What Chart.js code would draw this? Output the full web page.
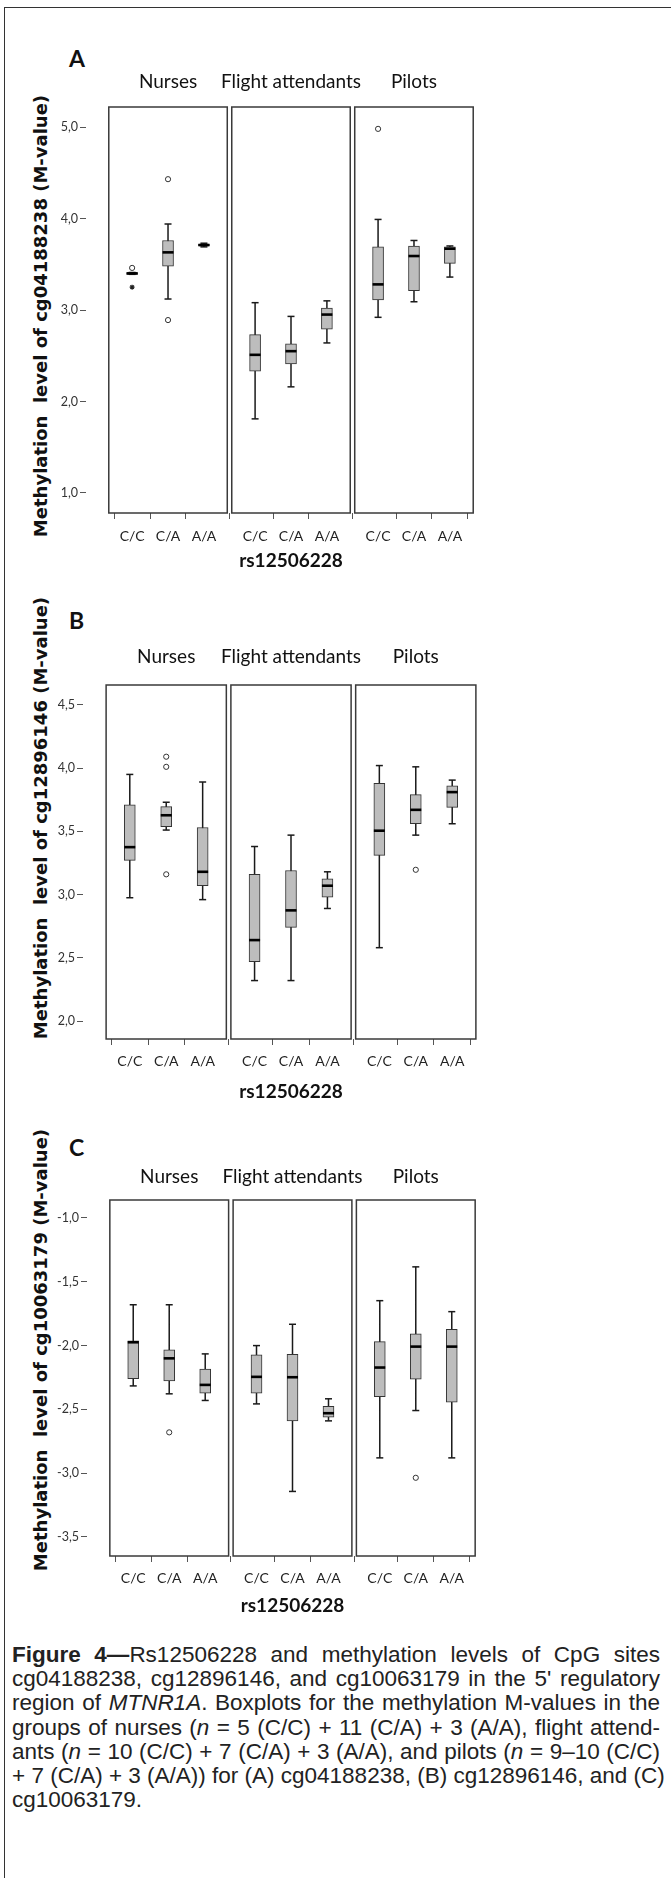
<!DOCTYPE html>
<html>
<head>
<meta charset="utf-8">
<script src="https://cdn.jsdelivr.net/npm/chart.js"></script>
<style>
    body { margin: 0; background: #fff; width: 671px; height: 1878px; position: relative; overflow: hidden; }
    .row { position: absolute; left: 0; width: 671px; }
    .letter { position: absolute; font: bold 23px Lato, sans-serif; color: #111; line-height: 23px; }
    .ytitle { position: absolute; width: 600px; text-align: center; font: bold 18px "DejaVu Sans", sans-serif; color: #111;
              white-space: pre; line-height: 22px; transform: rotate(-90deg); }
    #border { position: absolute; left: 4px; top: 7px; width: 700px; height: 1900px; border-left: 1.5px solid #333; border-top: 1.5px solid #333; }
    #caption { position: absolute; left: 12px; top: 1643px; width: 648px; color: #222;
               font-family: "Liberation Sans", Arial, sans-serif; font-size: 22.5px; line-height: 24.2px; }
    #caption div { text-align: justify; text-align-last: justify; white-space: nowrap; }
    #caption div.last { text-align-last: left; }
</style>
</head>
<body>
<div id="border"></div>

<div class="letter" style="left:69px; top:47px">A</div>
<div class="letter" style="left:69px; top:609px">B</div>
<div class="letter" style="left:69px; top:1136px">C</div>

<div class="ytitle" style="left:-259px; top:305px">Methylation  level of cg04188238 (M-value)</div>
<div class="ytitle" style="left:-259px; top:807px">Methylation  level of cg12896146 (M-value)</div>
<div class="ytitle" style="left:-259px; top:1339px">Methylation  level of cg10063179 (M-value)</div>

<div class="row" style="top:0px; height:590px"><canvas id="chartA"></canvas></div>
<div class="row" style="top:590px; height:530px"><canvas id="chartB"></canvas></div>
<div class="row" style="top:1120px; height:510px"><canvas id="chartC"></canvas></div>

<div id="caption">
    <div><b>Figure 4—</b>Rs12506228 and methylation levels of CpG sites</div>
    <div>cg04188238, cg12896146, and cg10063179 in the 5' regulatory</div>
    <div>region of <i>MTNR1A</i>. Boxplots for the methylation M-values in the</div>
    <div>groups of nurses (<i>n</i> = 5 (C/C) + 11 (C/A) + 3 (A/A), flight attend-</div>
    <div>ants (<i>n</i> = 10 (C/C) + 7 (C/A) + 3 (A/A), and pilots (<i>n</i> = 9–10 (C/C)</div>
    <div>+ 7 (C/A) + 3 (A/A)) for (A) cg04188238, (B) cg12896146, and (C)</div>
    <div class="last">cg10063179.</div>
</div>

<script>
    // groups and genotypes, boxes are listed group by group
    const groups = ['Nurses', 'Flight attendants', 'Pilots'];
    const genotypes = ['C/C', 'C/A', 'A/A'];

    // A: cg04188238
    const ticksA = [1, 2, 3, 4, 5];
    const minA = [3.39, 3.12, 3.69, 1.81, 2.16, 2.64, 2.92, 3.09, 3.36];
    const q1A  = [3.39, 3.48, 3.70, 2.33, 2.41, 2.79, 3.11, 3.21, 3.51];
    const medA = [3.40, 3.63, 3.71, 2.51, 2.55, 2.95, 3.28, 3.59, 3.67];
    const q3A  = [3.41, 3.76, 3.72, 2.73, 2.63, 3.02, 3.69, 3.70, 3.69];
    const maxA = [3.41, 3.94, 3.73, 3.08, 2.93, 3.10, 3.99, 3.76, 3.70];
    const outA = [[3.46], [2.89, 4.43], [], [], [], [], [4.98], [], []];
    const extA = [[3.25], [], [], [], [], [], [], [], []];

    // B: cg12896146
    const ticksB = [2.0, 2.5, 3.0, 3.5, 4.0, 4.5];
    const minB = [2.975, 3.51, 2.96, 2.32, 2.32, 2.89, 2.58, 3.47, 3.56];
    const q1B  = [3.27, 3.537, 3.07, 2.47, 2.74, 2.98, 3.31, 3.56, 3.69];
    const medB = [3.375, 3.627, 3.18, 2.64, 2.875, 3.07, 3.505, 3.67, 3.81];
    const q3B  = [3.71, 3.695, 3.53, 3.16, 3.19, 3.125, 3.88, 3.79, 3.86];
    const maxB = [3.95, 3.73, 3.89, 3.38, 3.47, 3.18, 4.02, 4.01, 3.905];
    const outB = [[], [4.09, 4.01, 3.16], [], [], [], [], [], [3.196], []];
    const extB = [[], [], [], [], [], [], [], [], []];

    // C: cg10063179
    const ticksC = [-3.5, -3.0, -2.5, -2.0, -1.5, -1.0];
    const minC = [-2.316, -2.378, -2.43, -2.457, -3.143, -2.59, -2.88, -2.509, -2.88];
    const q1C  = [-2.26, -2.277, -2.373, -2.373, -2.59, -2.56, -2.40, -2.263, -2.443];
    const medC = [-1.974, -2.10, -2.308, -2.245, -2.248, -2.53, -2.172, -2.008, -2.008];
    const q3C  = [-1.963, -2.034, -2.185, -2.073, -2.068, -2.477, -1.969, -1.908, -1.872];
    const maxC = [-1.68, -1.68, -2.065, -2.0, -1.833, -2.417, -1.648, -1.383, -1.734];
    const outC = [[], [-2.68], [], [], [], [], [], [-3.036], []];
    const extC = [[], [], [], [], [], [], [], [], []];

    // x layout in axis units: three framed groups with a small gap
    const frameWidth = 3.3;
    const frameGap = 0.125;
    const frameStart = groups.map((g, i) => i * (frameWidth + frameGap));
    const xMax = frameStart[2] + frameWidth;
    const xPos = [];
    frameStart.forEach(s => genotypes.forEach((c, j) => xPos.push(s + 0.65 + j)));

    const framePlugin = {
        id: 'groupFrames',
        beforeDatasetsDraw(chart, args, opts) {
            const {ctx, chartArea, scales: {x}} = chart;
            ctx.save();
            ctx.strokeStyle = '#3a3a3a';
            ctx.lineWidth = 1.5;
            ctx.fillStyle = '#111';
            ctx.font = '19px Lato, sans-serif';
            ctx.textAlign = 'center';
            ctx.textBaseline = 'middle';
            groups.forEach((g, i) => {
                const x0 = x.getPixelForValue(frameStart[i]);
                const x1 = x.getPixelForValue(frameStart[i] + frameWidth);
                ctx.strokeRect(x0, chartArea.top, x1 - x0, chartArea.bottom - chartArea.top);
                ctx.fillText(g, (x0 + x1) / 2, chartArea.top - opts.titleGap);
            });
            ctx.restore();
        }
    };

    const makeChart = (id, s, lay) => {
        const whiskers = [], boxes = [], caps = [], medians = [], outs = [], exts = [];
        xPos.forEach((x, i) => {
            whiskers.push({x: x, y: s.min[i]}, {x: x, y: s.max[i]}, {x: x, y: null});
            boxes.push({x: x, y: [s.q1[i], s.q3[i]]});
            caps.push({x: x, y: s.min[i]}, {x: x, y: s.max[i]});
            medians.push({x: x, y: s.med[i]});
            s.out[i].forEach(v => outs.push({x: x, y: v}));
            s.ext[i].forEach(v => exts.push({x: x, y: v}));
        });

        new Chart(document.getElementById(id), {
            type: 'bar',
            data: {
                datasets: [
                    {type: 'scatter', data: whiskers, showLine: true, spanGaps: false, borderColor: '#1a1a1a', borderWidth: 1.5, pointRadius: 0, order: 5},
                    {type: 'bar', data: boxes, barThickness: 11, backgroundColor: '#bdbdbd', borderColor: '#333', borderWidth: 1, borderSkipped: false, order: 4},
                    {type: 'scatter', data: caps, pointStyle: 'line', pointRadius: 3.5, borderWidth: 1.5, borderColor: '#1a1a1a', order: 3},
                    {type: 'scatter', data: medians, pointStyle: 'line', pointRadius: 5.5, borderWidth: 2.6, borderColor: '#000', order: 2},
                    {type: 'scatter', data: outs, pointStyle: 'circle', pointRadius: 2.6, backgroundColor: '#fff', borderColor: '#333', borderWidth: 1, order: 1},
                    {type: 'scatter', data: exts, pointStyle: 'star', pointRadius: 2.5, borderColor: '#222', borderWidth: 1.2, order: 0}
                ]
            },
            options: {
                responsive: true,
                maintainAspectRatio: false,
                animation: false,
                events: [],
                layout: {padding: lay.padding},
                plugins: {
                    legend: {display: false},
                    tooltip: {enabled: false},
                    groupFrames: {titleGap: lay.titleGap}
                },
                scales: {
                    x: {
                        type: 'linear',
                        min: 0,
                        max: xMax,
                        afterBuildTicks: scale => { scale.ticks = xPos.map(v => ({value: v})); },
                        afterFit: scale => { scale.height = lay.xHeight; },
                        ticks: {
                            autoSkip: false,
                            maxRotation: 0,
                            padding: lay.labelPad,
                            color: '#222',
                            font: {family: 'Lato, sans-serif', size: 14},
                            callback: (v, i) => genotypes[i % 3]
                        },
                        grid: {drawOnChartArea: false, tickLength: 6, color: '#555'},
                        border: {display: false},
                        title: {
                            display: true,
                            text: 'rs12506228',
                            color: '#111',
                            padding: 0,
                            font: {family: 'Lato, sans-serif', size: 19, weight: 'bold'}
                        }
                    },
                    y: {
                        type: 'linear',
                        min: s.yMin,
                        max: s.yMax,
                        stacked: false,
                        afterBuildTicks: scale => { scale.ticks = s.ticks.map(v => ({value: v})); },
                        afterFit: scale => { scale.width = lay.yWidth; },
                        ticks: {
                            padding: 2,
                            color: '#333',
                            font: {family: 'Lato, sans-serif', size: 12.5},
                            callback: v => v.toFixed(1).replace('.', ',')
                        },
                        grid: {drawOnChartArea: false, tickLength: 6, color: '#555'},
                        border: {display: false}
                    }
                }
            },
            plugins: [framePlugin]
        });
    };

    makeChart('chartA',
        {min: minA, q1: q1A, med: medA, q3: q3A, max: maxA, out: outA, ext: extA, ticks: ticksA, yMin: 0.781, yMax: 5.219},
        {padding: {left: 0, right: 175, top: 107, bottom: 17.6}, yWidth: 86, xHeight: 59.4, labelPad: 9, titleGap: 25});
    makeChart('chartB',
        {min: minB, q1: q1B, med: medB, q3: q3B, max: maxB, out: outB, ext: extB, ticks: ticksB, yMin: 1.858, yMax: 4.657},
        {padding: {left: 0, right: 172, top: 95, bottom: 16.6}, yWidth: 83, xHeight: 64.4, labelPad: 8, titleGap: 28});
    makeChart('chartC',
        {min: minC, q1: q1C, med: medC, q3: q3C, max: maxC, out: outC, ext: extC, ticks: ticksC, yMin: -3.649, yMax: -0.859},
        {padding: {left: 0, right: 173, top: 80, bottom: 12.6}, yWidth: 87, xHeight: 61.4, labelPad: 8, titleGap: 23});
</script>
</body>
</html>
